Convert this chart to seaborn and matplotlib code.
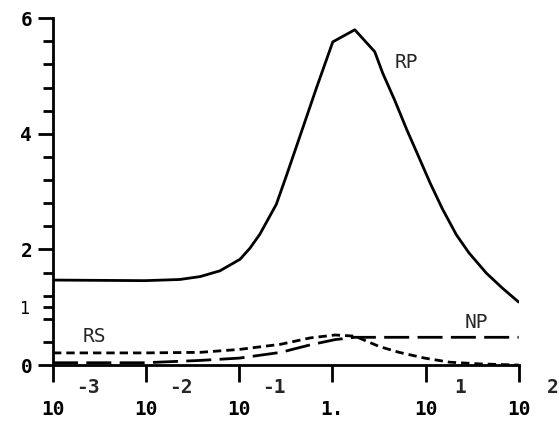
import numpy as np
import pandas as pd
import matplotlib
matplotlib.use("Agg")
import matplotlib.pyplot as plt
import seaborn as sns
from matplotlib.ticker import FixedLocator, FixedFormatter, NullLocator

# ---- data ----
rp_x = [0.001, 0.0097, 0.023, 0.038, 0.062, 0.102, 0.13, 0.166, 0.25, 0.32, 0.415,
        0.68, 1.01, 1.74, 2.85, 3.47, 4.67, 6.3, 8.1, 11.2, 15.2, 21.5, 29.3, 45.0,
        67.0, 100.0]
rp_y = [1.47, 1.46, 1.48, 1.53, 1.63, 1.83, 2.02, 2.26, 2.78, 3.27, 3.80,
        4.81, 5.59, 5.80, 5.42, 5.05, 4.58, 4.07, 3.67, 3.15, 2.70, 2.25, 1.94, 1.59,
        1.33, 1.09]

rs_x = [0.001, 0.0097, 0.038, 0.10, 0.28, 0.58, 1.07, 1.74, 3.2, 5.2, 9.8, 18.0, 38.0, 100.0]
rs_y = [0.21, 0.21, 0.22, 0.27, 0.36, 0.47, 0.52, 0.50, 0.32, 0.22, 0.12, 0.05, 0.02, 0.00]

np_x = [0.001, 0.0097, 0.038, 0.10, 0.28, 0.58, 1.07, 1.74, 3.2, 100.0]
np_y = [0.04, 0.04, 0.08, 0.12, 0.22, 0.35, 0.44, 0.48, 0.48, 0.48]

x_ticks = [1e-3, 1e-2, 1e-1, 1, 10, 100]
x_tick_labels = ["10", "10", "10", "1.", "10", "10"]
x_exponents = ["-3", "-2", "-1", "", "1", "2"]
y_major = [0, 2, 4, 6]
y_major_labels = ["0", "2", "4", "6"]
y_minor = [0.4, 0.8, 1.0, 1.2, 1.6, 2.4, 2.8, 3.2, 3.6, 4.4, 4.8, 5.2, 5.6]
y_minor_labels = ["", "", "1", "", "", "", "", "", "", "", "", "", ""]
curve_labels = ["RP", "RS", "NP"]
label_pos = [(6.3, 5.24), (0.0028, 0.50), (35.5, 0.73)]

sns.set_style("ticks")
plt.rcParams["font.family"] = ["DejaVu Sans Mono", "DejaVu Sans"]

fig = plt.figure(figsize=(5.59, 4.23), dpi=100)
ax = fig.add_axes([0.0948, 0.137, 0.833, 0.820])

df_rp = pd.DataFrame({"x": rp_x, "y": rp_y})
df_rs = pd.DataFrame({"x": rs_x, "y": rs_y})
df_np = pd.DataFrame({"x": np_x, "y": np_y})

sns.lineplot(data=df_rp, x="x", y="y", ax=ax, color="black", lw=2.0, sort=False)
sns.lineplot(data=df_rs, x="x", y="y", ax=ax, color="black", lw=2.0, sort=False,
             dashes=False).lines[-1].set_dashes((3.0, 1.8))
sns.lineplot(data=df_np, x="x", y="y", ax=ax, color="black", lw=2.0, sort=False,
             dashes=False).lines[-1].set_dashes((9.0, 3.0))

ax.set_xscale("log")
ax.set_xlim(1e-3, 100)
ax.set_ylim(0, 6)
ax.set_xlabel("")
ax.set_ylabel("")

for s in ["top", "right"]:
    ax.spines[s].set_visible(False)
for s in ["left", "bottom"]:
    ax.spines[s].set_linewidth(2.0)
    ax.spines[s].set_color("black")

ax.xaxis.set_major_locator(FixedLocator(x_ticks))
ax.xaxis.set_major_formatter(FixedFormatter(x_tick_labels))
ax.xaxis.set_minor_locator(NullLocator())
ax.tick_params(axis="x", which="major", direction="out", length=12, width=2.0,
               pad=13, labelsize=14, colors="black")

ax.yaxis.set_major_locator(FixedLocator(y_major))
ax.yaxis.set_major_formatter(FixedFormatter(y_major_labels))
ax.yaxis.set_minor_locator(FixedLocator(y_minor))
ax.yaxis.set_minor_formatter(FixedFormatter(y_minor_labels))
ax.tick_params(axis="y", which="major", direction="out", length=11, width=2.0,
               pad=4, labelsize=14, colors="black")
ax.tick_params(axis="y", which="minor", direction="out", length=7, width=2.0,
               pad=10, labelsize=12, colors="black")
for lab in ax.get_xticklabels() + ax.get_yticklabels():
    lab.set_fontweight("bold")

# exponents of the x tick labels
for xt, ex in zip(x_ticks, x_exponents):
    if ex:
        ax.text(xt * 10 ** 0.37, -0.038, ex, transform=ax.get_xaxis_transform(),
                ha="center", va="top", fontsize=14, fontweight="bold", clip_on=False)

for name, (lx, ly) in zip(curve_labels, label_pos):
    ax.text(lx, ly, name, ha="center", va="center", fontsize=14)

fig.savefig("out.png", dpi=100)
